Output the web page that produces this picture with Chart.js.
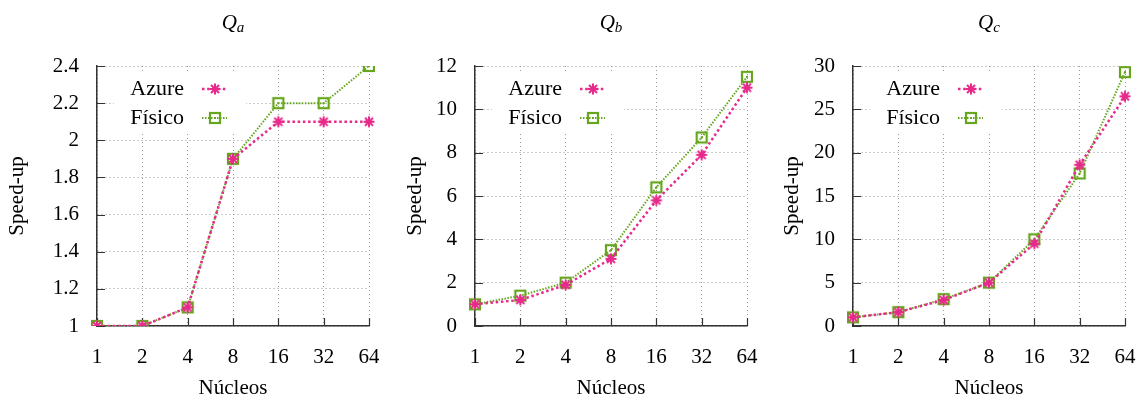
<!DOCTYPE html>
<html>
<head>
<meta charset="utf-8">
<title>Speed-up</title>
<script src="https://cdn.jsdelivr.net/npm/chart.js"></script>
<style>
    body { margin: 0; background: #fff; }
    .row { display: flex; width: 1137px; height: 401px; }
    .cell { position: relative; width: 379px; height: 401px; }
</style>
</head>
<body>
<div class="row">
    <div class="cell"><canvas id="qa"></canvas></div>
    <div class="cell"><canvas id="qb"></canvas></div>
    <div class="cell"><canvas id="qc"></canvas></div>
</div>

<script>
    const nucleos = ['1', '2', '4', '8', '16', '32', '64'];

    const azureQa  = [1, 1, 1.1, 1.9, 2.1, 2.1, 2.1];
    const fisicoQa = [1, 1, 1.1, 1.9, 2.2, 2.2, 2.4];
    const azureQb  = [1, 1.2, 1.9, 3.1, 5.8, 7.9, 11.0];
    const fisicoQb = [1, 1.4, 2.0, 3.5, 6.4, 8.7, 11.5];
    const azureQc  = [1.0, 1.6, 3.0, 5.0, 9.5, 18.6, 26.5];
    const fisicoQc = [1.0, 1.6, 3.1, 5.0, 10.0, 17.6, 29.3];

    const PINK = '#e7298a';
    const GREEN = '#66a61e';
    const SERIF = '"Liberation Serif", "Times New Roman", serif';

    Chart.defaults.font.family = SERIF;
    Chart.defaults.font.size = 21;
    Chart.defaults.color = '#000';

    // marcadores estilo gnuplot
    function asterisk(color) {
        const c = document.createElement('canvas');
        c.width = c.height = 14;
        const g = c.getContext('2d');
        g.strokeStyle = color;
        g.lineWidth = 2;
        g.beginPath();
        g.moveTo(7, 1.5); g.lineTo(7, 12.5);
        g.moveTo(1.5, 7); g.lineTo(12.5, 7);
        g.moveTo(3, 3); g.lineTo(11, 11);
        g.moveTo(11, 3); g.lineTo(3, 11);
        g.stroke();
        return c;
    }
    function boxDot(color) {
        const c = document.createElement('canvas');
        c.width = c.height = 14;
        const g = c.getContext('2d');
        g.strokeStyle = color;
        g.fillStyle = color;
        g.lineWidth = 2.2;
        g.strokeRect(2, 2, 10, 10);
        g.fillRect(6, 6, 2, 2);
        return c;
    }
    const starImg = asterisk(PINK);
    const boxImg = boxDot(GREEN);

    // leyenda dentro del área, marcas hacia dentro y título con subíndice
    const decor = {
        id: 'decor',
        beforeDatasetsDraw(chart) {
            const {ctx, chartArea: a, scales} = chart;
            ctx.save();
            // marcas de los ejes hacia dentro
            ctx.strokeStyle = '#333';
            ctx.lineWidth = 1.2;
            ctx.beginPath();
            scales.x.ticks.forEach((t, i) => {
                const px = Math.round(scales.x.getPixelForTick(i)) + 0.5;
                ctx.moveTo(px, a.bottom); ctx.lineTo(px, a.bottom - 8);
            });
            scales.y.ticks.forEach((t, i) => {
                const py = Math.round(scales.y.getPixelForTick(i)) + 0.5;
                ctx.moveTo(a.left, py); ctx.lineTo(a.left + 8, py);
            });
            ctx.stroke();

            ctx.fillStyle = '#fff';
            ctx.fillRect(a.left + 17, a.top + 6, 132, 59);
            ctx.font = '22px ' + SERIF;
            ctx.textAlign = 'right';
            ctx.textBaseline = 'middle';
            chart.data.datasets.forEach((ds, i) => {
                const y = a.top + 23 + i * 29;
                ctx.fillStyle = '#000';
                ctx.fillText(ds.label, a.left + 87, y);
                ctx.setLineDash(ds.borderDash);
                ctx.strokeStyle = ds.borderColor;
                ctx.lineWidth = ds.borderWidth;
                ctx.beginPath();
                ctx.moveTo(a.left + 105, y);
                ctx.lineTo(a.left + 130, y);
                ctx.stroke();
                ctx.setLineDash([]);
                ctx.drawImage(ds.pointStyle, a.left + 118 - 7, y - 7);
            });
            ctx.restore();
        },
        afterDraw(chart, args, opts) {
            const {ctx, chartArea: a} = chart;
            ctx.save();
            ctx.fillStyle = '#000';
            ctx.textBaseline = 'alphabetic';
            ctx.textAlign = 'left';
            ctx.font = 'italic 21px ' + SERIF;
            const w1 = ctx.measureText('Q').width;
            ctx.font = 'italic 15px ' + SERIF;
            const w2 = ctx.measureText(opts.sub).width;
            const x0 = (a.left + a.right) / 2 - (w1 + w2) / 2;
            ctx.font = 'italic 21px ' + SERIF;
            ctx.fillText('Q', x0, 29);
            ctx.font = 'italic 15px ' + SERIF;
            ctx.fillText(opts.sub, x0 + w1, 32);
            ctx.restore();
        }
    };

    function makeChart(id, sub, azure, fisico, yMin, yMax, step, yWidth, yTitlePad, rightPad) {
        return new Chart(document.getElementById(id), {
            type: 'line',
            data: {
                labels: nucleos,
                datasets: [{
                    label: 'Azure',
                    data: azure,
                    borderColor: PINK,
                    borderWidth: 2.5,
                    borderDash: [2.5, 2.7],
                    pointStyle: starImg,
                    tension: 0
                }, {
                    label: 'Físico',
                    data: fisico,
                    borderColor: GREEN,
                    borderWidth: 2,
                    borderDash: [1.5, 1.5],
                    pointStyle: boxImg,
                    tension: 0
                }]
            },
            options: {
                responsive: true,
                maintainAspectRatio: false,
                animation: false,
                layout: { padding: { top: 66, right: rightPad, left: 0, bottom: 0 } },
                plugins: {
                    legend: { display: false },
                    tooltip: { enabled: false },
                    decor: { sub: sub }
                },
                scales: {
                    x: {
                        type: 'category',
                        offset: false,
                        grid: { color: '#999', lineWidth: 1, drawTicks: false },
                        border: { display: true, color: '#333', width: 1.5, dash: [1, 3] },
                        ticks: { padding: 19, maxRotation: 0, autoSkip: false },
                        title: { display: true, text: 'Núcleos', padding: { top: 0, bottom: 0 } },
                        afterFit(s) {
                            s.height = 75;
                            s.paddingLeft = 0;
                            s.paddingRight = 0;
                        }
                    },
                    y: {
                        min: yMin,
                        max: yMax,
                        grid: { color: '#999', lineWidth: 1, drawTicks: false },
                        border: { display: true, color: '#333', width: 1.5, dash: [1, 3] },
                        ticks: {
                            stepSize: step,
                            padding: 18,
                            callback: v => String(Math.round(v * 10) / 10)
                        },
                        title: { display: true, text: 'Speed-up', padding: { top: yTitlePad, bottom: 0 } },
                        afterFit(s) { s.width = yWidth; }
                    }
                }
            },
            plugins: [decor]
        });
    }

    makeChart('qa', 'a', azureQa, fisicoQa, 1, 2.4, 0.2, 97, 5, 10);
    makeChart('qb', 'b', azureQb, fisicoQb, 0, 12, 2, 96, 23.6, 11);
    makeChart('qc', 'c', azureQc, fisicoQc, 0, 30, 5, 95, 22, 12);
</script>
</body>
</html>
